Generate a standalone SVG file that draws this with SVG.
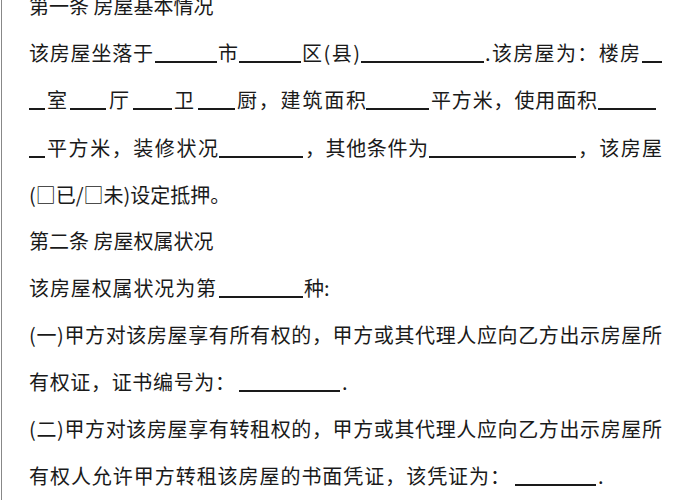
<svg xmlns="http://www.w3.org/2000/svg" width="700" height="500" viewBox="0 0 700 500">
<style>
text{font-family:"Noto Sans CJK SC","Liberation Sans",sans-serif;font-size:20px;fill:#1a1a1a}
.u{stroke:#1a1a1a;stroke-width:2}
</style>
<rect width="700" height="500" fill="#fff"/>
<line x1="1.5" y1="0" x2="1.5" y2="500" stroke="#888" stroke-width="1"/>
<text x="29" y="14">第一条 房屋基本情况</text>
<text y="61"><tspan x="29" textLength="124">该房屋坐落于</tspan><tspan x="218">市</tspan><tspan x="302" textLength="58">区(县)</tspan><tspan x="485" textLength="155">.该房屋为：楼房</tspan></text>
<g class="u"><line x1="155" y1="62" x2="217" y2="62"/><line x1="239" y1="62" x2="301" y2="62"/><line x1="361" y1="62" x2="484" y2="62"/><line x1="642" y1="62" x2="662" y2="62"/></g>
<text y="108"><tspan x="47">室</tspan><tspan x="109">厅</tspan><tspan x="174">卫</tspan><tspan x="237" textLength="129">厨，建筑面积</tspan><tspan x="431" textLength="166">平方米，使用面积</tspan></text>
<g class="u"><line x1="29" y1="109" x2="45" y2="109"/><line x1="70" y1="109" x2="106" y2="109"/><line x1="133" y1="109" x2="172" y2="109"/><line x1="198" y1="109" x2="235" y2="109"/><line x1="366" y1="109" x2="429" y2="109"/><line x1="598" y1="109" x2="656" y2="109"/></g>
<text y="156"><tspan x="47" textLength="171">平方米，装修状况</tspan><tspan x="305" textLength="123">，其他条件为</tspan><tspan x="578" textLength="84">，该房屋</tspan></text>
<g class="u"><line x1="29" y1="157" x2="45" y2="157"/><line x1="219" y1="157" x2="303" y2="157"/><line x1="429" y1="157" x2="576" y2="157"/></g>
<text x="29" y="203">(□已/□未)设定抵押。</text>
<text x="29" y="249">第二条 房屋权属状况</text>
<text y="296"><tspan x="29" textLength="187">该房屋权属状况为第</tspan><tspan x="304">种:</tspan></text>
<line class="u" x1="219" y1="297" x2="303" y2="297"/>
<text x="29" y="343" textLength="633">(一)甲方对该房屋享有所有权的，甲方或其代理人应向乙方出示房屋所</text>
<text y="390"><tspan x="29" textLength="206">有权证，证书编号为：</tspan><tspan x="342">.</tspan></text>
<line class="u" x1="239" y1="391" x2="340" y2="391"/>
<text x="29" y="437" textLength="633">(二)甲方对该房屋享有转租权的，甲方或其代理人应向乙方出示房屋所</text>
<text y="484"><tspan x="29" textLength="481">有权人允许甲方转租该房屋的书面凭证，该凭证为：</tspan><tspan x="598">.</tspan></text>
<line class="u" x1="515" y1="485" x2="596" y2="485"/>
</svg>
